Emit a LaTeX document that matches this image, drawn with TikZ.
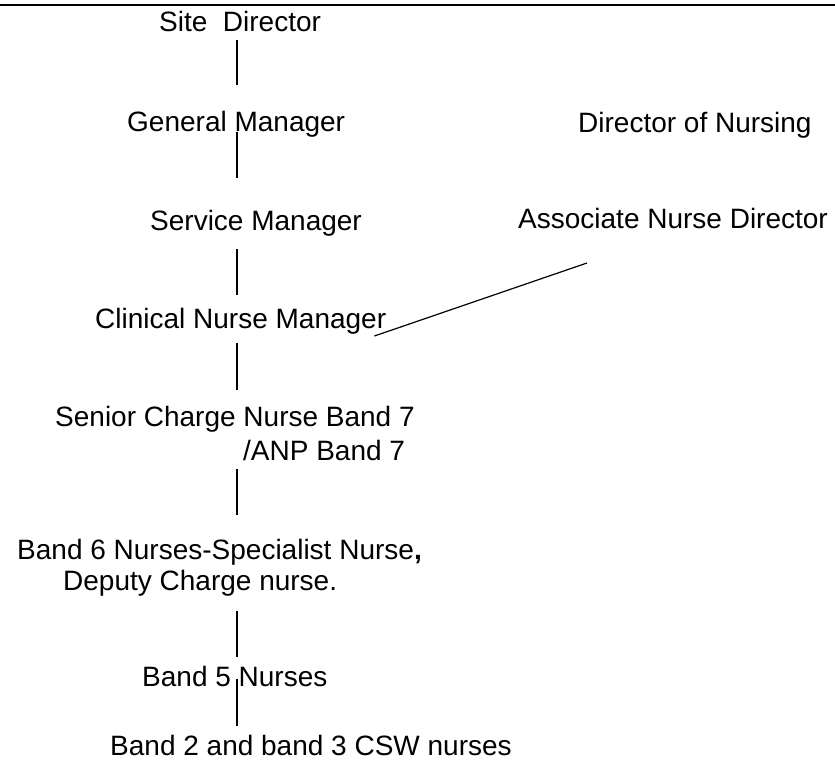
\documentclass[tikz,border=0pt]{standalone}
\usepackage{fontspec}
\setmainfont{Liberation Sans}
\usetikzlibrary{calc}
\begin{document}
\begin{tikzpicture}[x=1pt,y=-1pt,
  lbl/.style={inner sep=0pt, anchor=base west, font=\fontsize{28}{32}\selectfont},
  conn/.style={line width=1.2pt},
  rulestyle/.style={line width=2.5pt}]
\useasboundingbox (0,0) rectangle (835,760);
% top rule
\coordinate (ruleL) at (0,5);
\coordinate (ruleR) at (835,5);
\draw[rulestyle] (ruleL) -- (ruleR);
\coordinate (spine) at (237,0);
% labels
\node[lbl] (sd)  at (159,32)  {Site\ \ Director};
\node[lbl] (gm)  at (127,131) {General Manager};
\node[lbl] (don) at (578,132) {Director of Nursing};
\node[lbl] (sm)  at (150,230) {Service Manager};
\node[lbl] (and) at (518,228) {Associate Nurse Director};
\node[lbl] (cnm) at (95,328)  {Clinical Nurse Manager};
\node[lbl] (scn) at (55,426)  {Senior Charge Nurse Band 7};
\node[lbl] (anp) at (243,460) {/ANP Band 7};
\node[lbl] (bsix) at (17,559) {Band 6 Nurses-Specialist Nurse\textbf{,}};
\node[lbl] (dep) at (63,590)  {Deputy Charge nurse.};
\node[lbl] (bfive) at (142,686) {Band 5 Nurses};
\node[lbl] (btwo) at (110,755) {Band 2 and band 3 CSW nurses};
% connectors
\draw[conn] ($(sd.base -| spine)+(0,8)$) -- ($(gm.base -| spine)+(0,-46)$);
\draw[conn] ($(gm.base -| spine)+(0,1)$) -- ($(sm.base -| spine)+(0,-52)$);
\draw[conn] ($(sm.base -| spine)+(0,19)$) -- ($(cnm.base -| spine)+(0,-33)$);
\draw[conn] ($(cnm.base -| spine)+(0,15)$) -- ($(scn.base -| spine)+(0,-36)$);
\draw[conn] ($(anp.base -| spine)+(0,9)$) -- ($(bsix.base -| spine)+(0,-44)$);
\draw[conn] ($(dep.base -| spine)+(0,21)$) -- ($(bfive.base -| spine)+(0,-29)$);
\draw[conn] ($(bfive.base -| spine)+(0,-7)$) -- ($(btwo.base -| spine)+(0,-29)$);
\draw[conn] ($(cnm.base east)+(-12,8)$) -- ($(and.base west)+(69,35)$);
\end{tikzpicture}
\end{document}
